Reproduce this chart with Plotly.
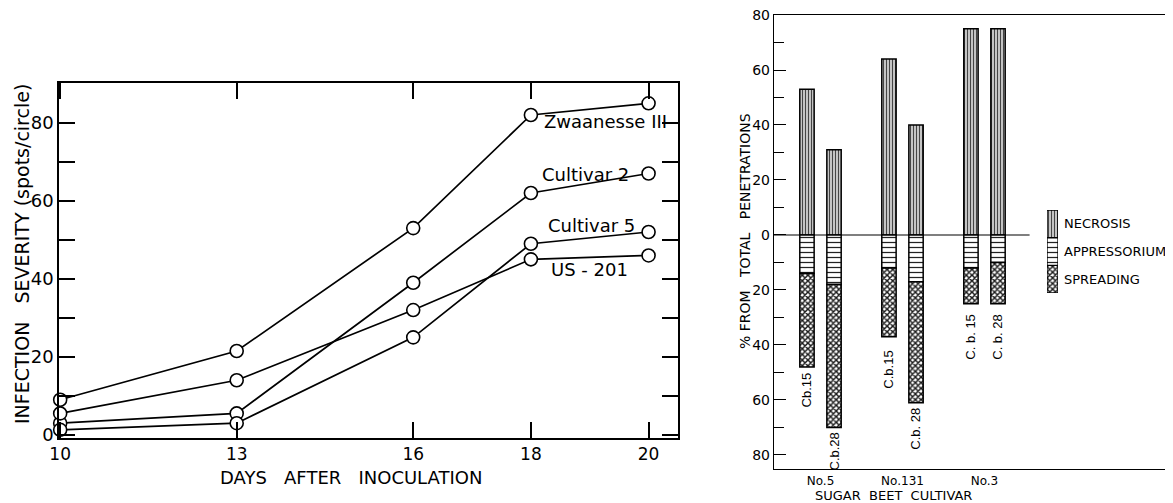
import plotly.graph_objects as go

# ---------------- Left panel data ----------------
days = [10, 13, 16, 18, 20]
zwaanesse = [9, 21.5, 53, 82, 85]
cultivar2 = [3, 5.5, 39, 62, 67]
cultivar5 = [1.3, 3, 25, 49, 52]
us201 = [5.5, 14, 32, 45, 46]
series_names = ["Zwaanesse III", "Cultivar 2", "Cultivar 5", "US - 201"]
left_yticks = [0, 20, 40, 60, 80]

# ---------------- Right panel data ----------------
cultivars = ["No.5", "No.131", "No.3"]
isolates = ["Cb.15", "C.b.28", "C.b.15", "C.b. 28", "C. b. 15", "C. b. 28"]
necrosis = [53, 31, 64, 40, 75, 75]
appressorium = [14, 18, 12, 17, 12, 10]
spreading = [34, 52, 25, 44, 13, 15]
right_yticks = [-80, -60, -40, -20, 0, 20, 40, 60, 80]
legend_labels = ["NECROSIS", "APPRESSORIUM", "SPREADING"]
legend_units = [1, 1, 1]

FONT = "DejaVu Sans, Liberation Sans, sans-serif"
NARROW = "Liberation Sans, Arial, sans-serif"
OFF = 8                      # page body margin
W, H = 1173 - OFF, 503 - OFF  # figure size


def px_x(p):
    return (p - OFF) / W


def px_y(p):
    return (H - (p - OFF)) / H


fig = go.Figure()

# ---- Left: lines ----
for name, vals in zip(series_names, [zwaanesse, cultivar2, cultivar5, us201]):
    fig.add_trace(go.Scatter(
        x=days, y=vals, mode="lines+markers", name=name,
        line=dict(color="black", width=1.7),
        marker=dict(symbol="circle", size=13, color="white",
                    line=dict(color="black", width=1.6)),
        xaxis="x", yaxis="y", showlegend=False, cliponaxis=False))

label_pos = {"Zwaanesse III": (19.27, 80.3), "Cultivar 2": (18.93, 66.7),
             "Cultivar 5": (19.03, 53.8), "US - 201": (19.0, 42.3)}
annotations = []
for name in series_names:
    lx, ly = label_pos[name]
    annotations.append(dict(x=lx, y=ly, xref="x", yref="y", text=name,
                            xanchor="center", yanchor="middle",
                            showarrow=False, font=dict(size=18, color="black", family=FONT)))

# ---- Right: bars ----
group_of_bar = [0, 0, 1, 1, 2, 2]
offsets = [-0.165, 0.165]
bar_x = [g + offsets[i % 2] for i, g in enumerate(group_of_bar)]
bw = 0.175

patterns = {
    "NECROSIS": dict(shape="|", fgcolor="#444444", bgcolor="#c4c4c4", size=3, solidity=0.33),
    "APPRESSORIUM": dict(shape="-", fgcolor="#222222", bgcolor="white", size=5, solidity=0.25),
    "SPREADING": dict(shape="x", fgcolor="#1a1a1a", bgcolor="white", size=4, solidity=0.6),
}

fig.add_trace(go.Bar(x=bar_x, y=necrosis, width=bw, name="NECROSIS",
                     marker=dict(color="white", pattern=patterns["NECROSIS"],
                                 line=dict(color="black", width=1.5)),
                     xaxis="x2", yaxis="y2", showlegend=False))
fig.add_trace(go.Bar(x=bar_x, y=[-v for v in appressorium], width=bw, name="APPRESSORIUM",
                     marker=dict(color="white", pattern=patterns["APPRESSORIUM"],
                                 line=dict(color="black", width=1.5)),
                     xaxis="x2", yaxis="y2", showlegend=False))
fig.add_trace(go.Bar(x=bar_x, y=[-v for v in spreading], width=bw, name="SPREADING",
                     marker=dict(color="white", pattern=patterns["SPREADING"],
                                 line=dict(color="black", width=1.5)),
                     xaxis="x2", yaxis="y2", showlegend=False))

# legend swatch (stacked boxes)
for lab, u in zip(reversed(legend_labels), legend_units):
    fig.add_trace(go.Bar(x=[0], y=[u], width=1, name=lab,
                         marker=dict(color="white", pattern=patterns[lab],
                                     line=dict(color="black", width=1.3)),
                         xaxis="x3", yaxis="y3", showlegend=False, hoverinfo="skip"))
for i, lab in enumerate(reversed(legend_labels)):
    annotations.append(dict(x=px_x(1062), y=i + 0.5, xref="paper", yref="y3", text=lab,
                            xanchor="left", yanchor="middle", showarrow=False,
                            font=dict(size=13, color="black", family=FONT)))

# rotated isolate labels under bars
gaps = [3, 3, 12, 3, 8, 8]
for xv, lab, a, s, g in zip(bar_x, isolates, appressorium, spreading, gaps):
    annotations.append(dict(x=xv, y=-(a + s), xref="x2", yref="y2", text=lab,
                            textangle=-90, yanchor="top", xanchor="center", yshift=-g,
                            showarrow=False, font=dict(size=13, color="black", family=NARROW)))

# axis titles as annotations
title_common = dict(xref="paper", yref="paper", xanchor="center", yanchor="middle",
                    showarrow=False)
annotations.append(dict(x=px_x(351), y=px_y(477),
                        text="DAYS&nbsp;&nbsp;&nbsp;AFTER&nbsp;&nbsp;&nbsp;INOCULATION",
                        font=dict(size=18, color="black", family=FONT), **title_common))
annotations.append(dict(x=px_x(22), y=px_y(254),
                        text="INFECTION&nbsp;&nbsp;&nbsp;SEVERITY (spots/circle)", textangle=-90,
                        font=dict(size=19, color="black", family=FONT), **title_common))
annotations.append(dict(x=px_x(745), y=px_y(231),
                        text="%&nbsp;FROM&nbsp;&nbsp;&nbsp;TOTAL&nbsp;&nbsp;&nbsp;PENETRATIONS",
                        textangle=-90,
                        font=dict(size=14, color="black", family=FONT), **title_common))
annotations.append(dict(x=px_x(893), y=px_y(495),
                        text="SUGAR&nbsp;&nbsp;BEET&nbsp;&nbsp;CULTIVAR",
                        font=dict(size=13, color="black", family=FONT), **title_common))

fig.update_layout(
    template="none",
    width=W, height=H, autosize=False,
    margin=dict(l=0, r=0, t=0, b=0, pad=0),
    paper_bgcolor="white", plot_bgcolor="white",
    barmode="relative", showlegend=False,
    font=dict(family=FONT, color="black"),
    xaxis=dict(domain=[px_x(59), px_x(678)], range=[9.98, 20.5], anchor="y",
               automargin=False, ticklabeloverflow="allow",
               tickvals=days, ticktext=[str(d) for d in days], ticks="inside",
               ticklen=16, tickwidth=1.5, mirror="ticks", showline=True,
               showgrid=False, zeroline=False, linecolor="black", linewidth=1.6,
               tickcolor="black", tickfont=dict(family=FONT, color="black", size=17)),
    yaxis=dict(domain=[px_y(438), px_y(83)], range=[-0.8, 90.2], anchor="x",
               automargin=False, ticklabeloverflow="allow",
               tickvals=left_yticks, ticks="inside", ticklen=16, tickwidth=1.5,
               mirror="ticks", showline=True,
               minor=dict(dtick=10, tick0=0, ticks="inside", ticklen=16, tickwidth=1.5,
                          tickcolor="black", showgrid=False),
               showgrid=False, zeroline=False, linecolor="black", linewidth=1.6,
               tickcolor="black", tickfont=dict(family=FONT, color="black", size=18)),
    xaxis2=dict(domain=[px_x(774), px_x(1172)], range=[-0.567, 4.287], anchor="y2",
                automargin=False, ticklabeloverflow="allow",
                tickvals=[0, 1, 2], ticktext=cultivars, ticks="", showline=True, mirror=True,
                showgrid=False, zeroline=False, linecolor="black", linewidth=1.4,
                tickfont=dict(family=FONT, color="black", size=12)),
    yaxis2=dict(domain=[px_y(469), px_y(15)], range=[-85.1, 80], anchor="x2",
                automargin=False, ticklabeloverflow="allow",
                tickvals=right_yticks, ticktext=[str(abs(v)) for v in right_yticks],
                ticks="inside", ticklen=12, tickwidth=1.2, showline=True, mirror=True,
                minor=dict(dtick=10, tick0=0, ticks="inside", ticklen=10, tickwidth=1.2,
                           tickcolor="black", showgrid=False),
                showgrid=False, zeroline=False, linecolor="black", linewidth=1.4,
                tickcolor="black", tickfont=dict(family=FONT, color="black", size=14)),
    xaxis3=dict(domain=[px_x(1047), px_x(1058)], range=[-0.5, 0.5], anchor="y3",
                visible=False, fixedrange=True, automargin=False),
    yaxis3=dict(domain=[px_y(293), px_y(210)], range=[0, 3], anchor="x3",
                visible=False, fixedrange=True, automargin=False),
    annotations=annotations,
    shapes=[dict(type="line", xref="x2", yref="y2", x0=-0.567, x1=2.55, y0=0, y1=0,
                 line=dict(color="black", width=1.2), layer="below")],
)

fig.write_html("out.html")
